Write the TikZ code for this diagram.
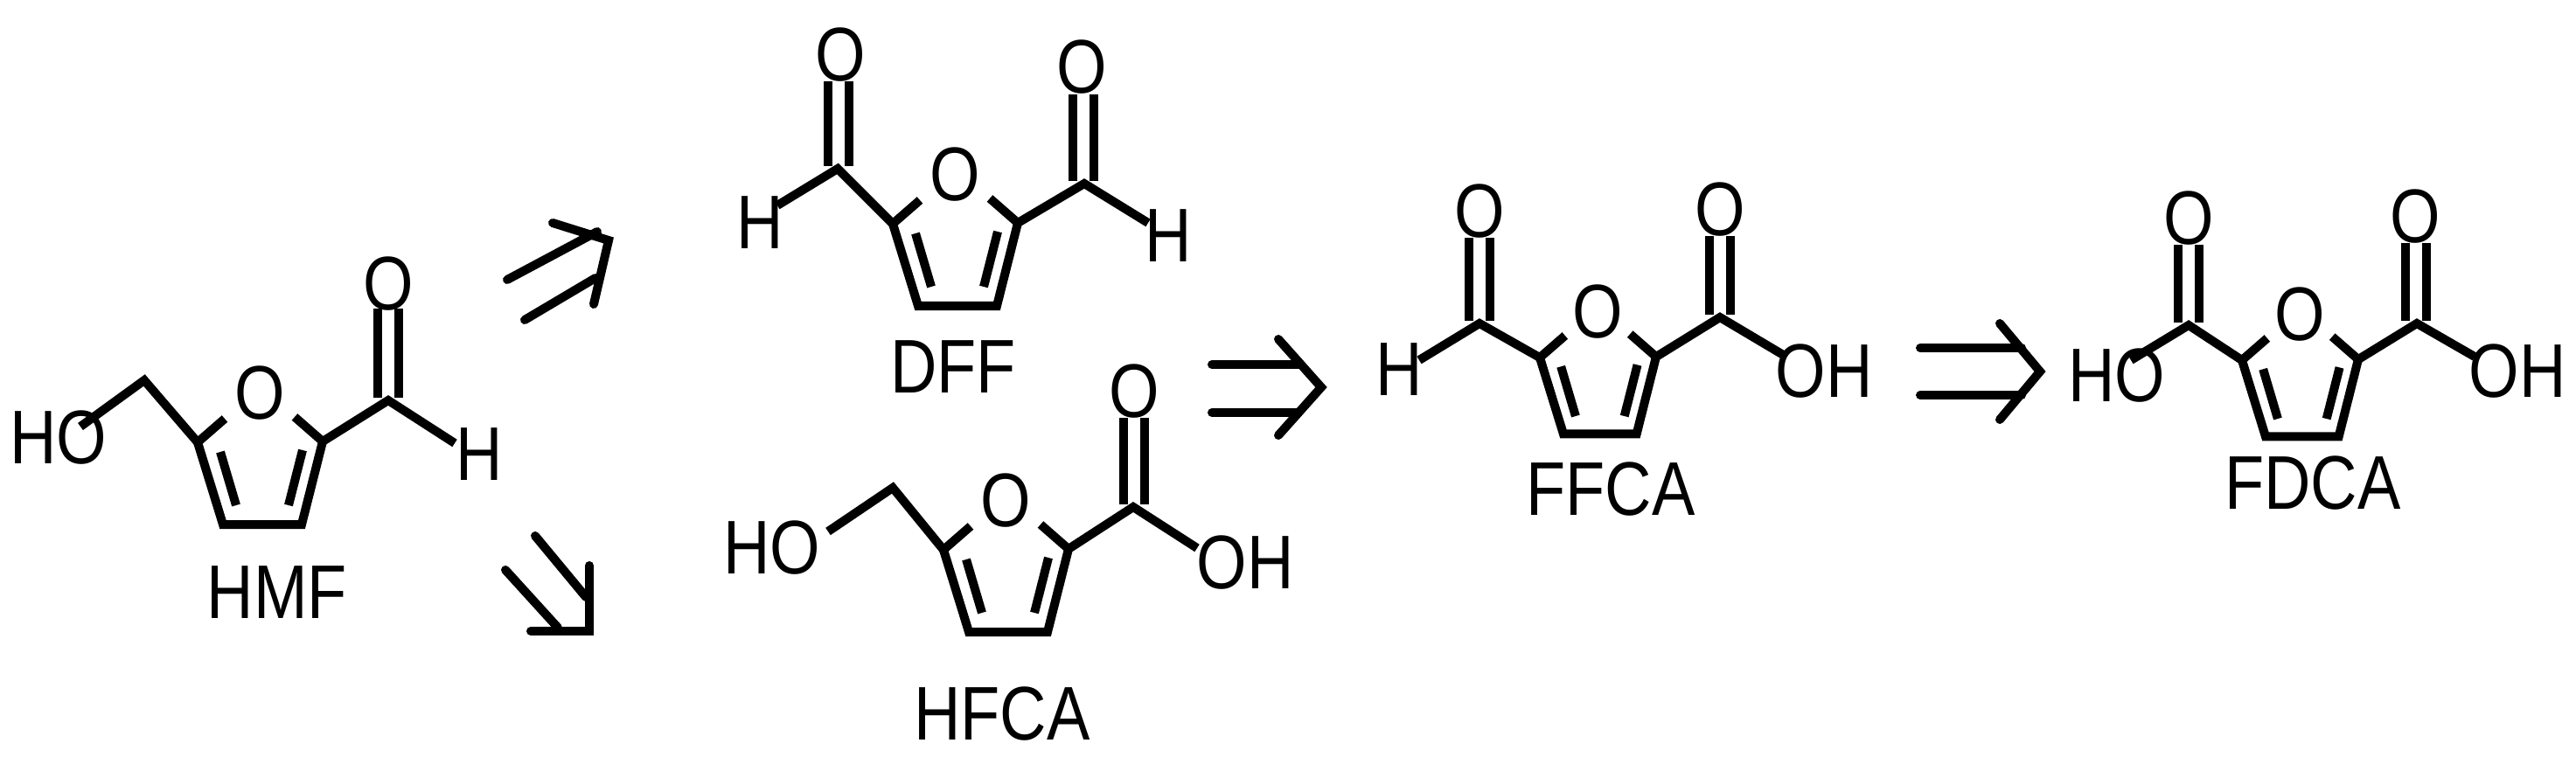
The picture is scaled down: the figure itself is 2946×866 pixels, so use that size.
\documentclass[tikz,border=0pt]{standalone}
\usepackage{fontspec}
\setmainfont{Liberation Sans}
\begin{document}
\begin{tikzpicture}[x=1pt,y=-1pt,
  bond/.style={line width=10pt},
  arr/.style={line width=10pt,line cap=round,line join=miter},
  atom/.style={inner sep=0pt,xscale=0.85,font=\fontsize{87}{90}\selectfont}]
\useasboundingbox (0,0) rectangle (2946,866);
\newcommand\furan[4]{%
  \node[atom] (#3O) at (#1,#2) {O};
  \begin{scope}[shift={(#1,#2)},scale=#4]
    \coordinate (#3oa) at (-40,29);
    \coordinate (#3c2) at (-71,56);
    \coordinate (#3c3) at (-42,150);
    \coordinate (#3c4) at (48,150);
    \coordinate (#3c5) at (72,55);
    \coordinate (#3ob) at (40,27);
    \draw[bond] (#3oa) -- (#3c2) -- (#3c3) -- (#3c4) -- (#3c5) -- (#3ob);
    \draw[bond] (-45,67) -- (-27,128);
    \draw[bond] (49,65) -- (33,128);
  \end{scope}}
\newcommand\dbl[3]{\draw[bond] (#1-12,#2) -- (#1-12,#3) (#1+12,#2) -- (#1+12,#3);}
% HMF
\furan{297}{450}{hmf}{1}
\coordinate (hmfch) at (165,435);
\node[atom] (hmfHO) at (67,501) {HO};
\coordinate (hmfoe) at (92,488);
\draw[bond] (hmfc2) -- (hmfch) -- (hmfoe);
\coordinate (hmfcc) at (444,458);
\coordinate (hmfhe) at (520,507);
\draw[bond] (hmfc5) -- (hmfcc) -- (hmfhe);
\dbl{444}{455}{353}
\node[atom] (hmfO2) at (444,325) {O};
\node[atom] (hmfH) at (548,520) {H};
\node[atom] (hmfL) at (317,678) {HMF};
% arrows from HMF
\coordinate (u1a) at (580,320); \coordinate (u1b) at (683,265);
\coordinate (u2a) at (600,366); \coordinate (u2b) at (681,318);
\draw[arr] (u1a) -- (u1b) (u2a) -- (u2b);
\coordinate (uh1) at (632,255); \coordinate (ut) at (696,275); \coordinate (uh2) at (679,348);
\draw[arr] (uh1) -- (ut) -- (uh2);
\coordinate (d1a) at (612,613); \coordinate (d1b) at (670,683);
\coordinate (d2a) at (578,652); \coordinate (d2b) at (638,718);
\draw[arr] (d1a) -- (d1b) (d2a) -- (d2b);
\coordinate (dh1) at (674,647); \coordinate (dt) at (674,722); \coordinate (dh2) at (607,722);
\draw[arr] (dh1) -- (dt) -- (dh2);
% DFF
\furan{1092}{200}{dff}{1}
\coordinate (dffl) at (958,193); \coordinate (dfflh) at (889,235);
\draw[bond] (dffc2) -- (dffl) -- (dfflh);
\dbl{959}{190}{93}
\node[atom] (dffO1) at (961,63) {O};
\node[atom] (dffH1) at (869,255) {H};
\coordinate (dffr) at (1240,210); \coordinate (dffrh) at (1313,255);
\draw[bond] (dffc5) -- (dffr) -- (dffrh);
\dbl{1239}{207}{108}
\node[atom] (dffO2) at (1237,77) {O};
\node[atom] (dffH2) at (1336,270) {H};
\node[atom] (dffL) at (1090,420) {DFF};
% HFCA
\furan{1150}{573}{hfca}{1}
\coordinate (hfcach) at (1021,558); \coordinate (hfcaoe) at (947,608);
\draw[bond] (hfcac2) -- (hfcach) -- (hfcaoe);
\node[atom] (hfcaHO) at (883,627) {HO};
\coordinate (hfcacc) at (1296,580); \coordinate (hfcaoh) at (1369,627);
\draw[bond] (hfcac5) -- (hfcacc) -- (hfcaoh);
\dbl{1297}{577}{478}
\node[atom] (hfcaO2) at (1297,448) {O};
\node[atom] (hfcaOH) at (1424,644) {OH};
\node[atom] (hfcaL) at (1146,817) {HFCA};
% arrow to FFCA
\coordinate (a1s) at (1386,417); \coordinate (a1e) at (1485,417);
\coordinate (a2s) at (1386,472); \coordinate (a2e) at (1485,472);
\draw[arr] (a1s) -- (a1e) (a2s) -- (a2e);
\coordinate (ah1) at (1462,388); \coordinate (at) at (1511,443); \coordinate (ah2) at (1462,498);
\draw[arr] (ah1) -- (at) -- (ah2);
% FFCA
\furan{1827}{357}{ffca}{0.93}
\coordinate (ffcal) at (1692,370); \coordinate (ffcalh) at (1623,412);
\draw[bond] (ffcac2) -- (ffcal) -- (ffcalh);
\dbl{1692}{367}{272}
\node[atom] (ffcaO1) at (1692,242) {O};
\node[atom] (ffcaH) at (1600,423) {H};
\coordinate (ffcar) at (1967,363); \coordinate (ffcaoh) at (2041,407);
\draw[bond] (ffcac5) -- (ffcar) -- (ffcaoh);
\dbl{1967}{360}{270}
\node[atom] (ffcaO2) at (1967,240) {O};
\node[atom] (ffcaOH) at (2086,425) {OH};
\node[atom] (ffcaL) at (1842,560) {FFCA};
% arrow to FDCA
\coordinate (b1s) at (2196,398); \coordinate (b1e) at (2312,398);
\coordinate (b2s) at (2196,452); \coordinate (b2e) at (2312,452);
\draw[arr] (b1s) -- (b1e) (b2s) -- (b2e);
\coordinate (bh1) at (2287,370); \coordinate (bt) at (2333,425); \coordinate (bh2) at (2287,480);
\draw[arr] (bh1) -- (bt) -- (bh2);
% FDCA
\furan{2630}{360}{fdca}{0.93}
\coordinate (fdcal) at (2503,372); \coordinate (fdcaho) at (2437,412);
\draw[bond] (fdcac2) -- (fdcal) -- (fdcaho);
\dbl{2503}{369}{280}
\node[atom] (fdcaO1) at (2503,250) {O};
\node[atom] (fdcaHO) at (2421,430) {HO};
\coordinate (fdcar) at (2764,370); \coordinate (fdcaoh) at (2830,408);
\draw[bond] (fdcac5) -- (fdcar) -- (fdcaoh);
\dbl{2763}{367}{278}
\node[atom] (fdcaO2) at (2762,248) {O};
\node[atom] (fdcaOH) at (2879,425) {OH};
\node[atom] (fdcaL) at (2645,553) {FDCA};
\end{tikzpicture}
\end{document}
